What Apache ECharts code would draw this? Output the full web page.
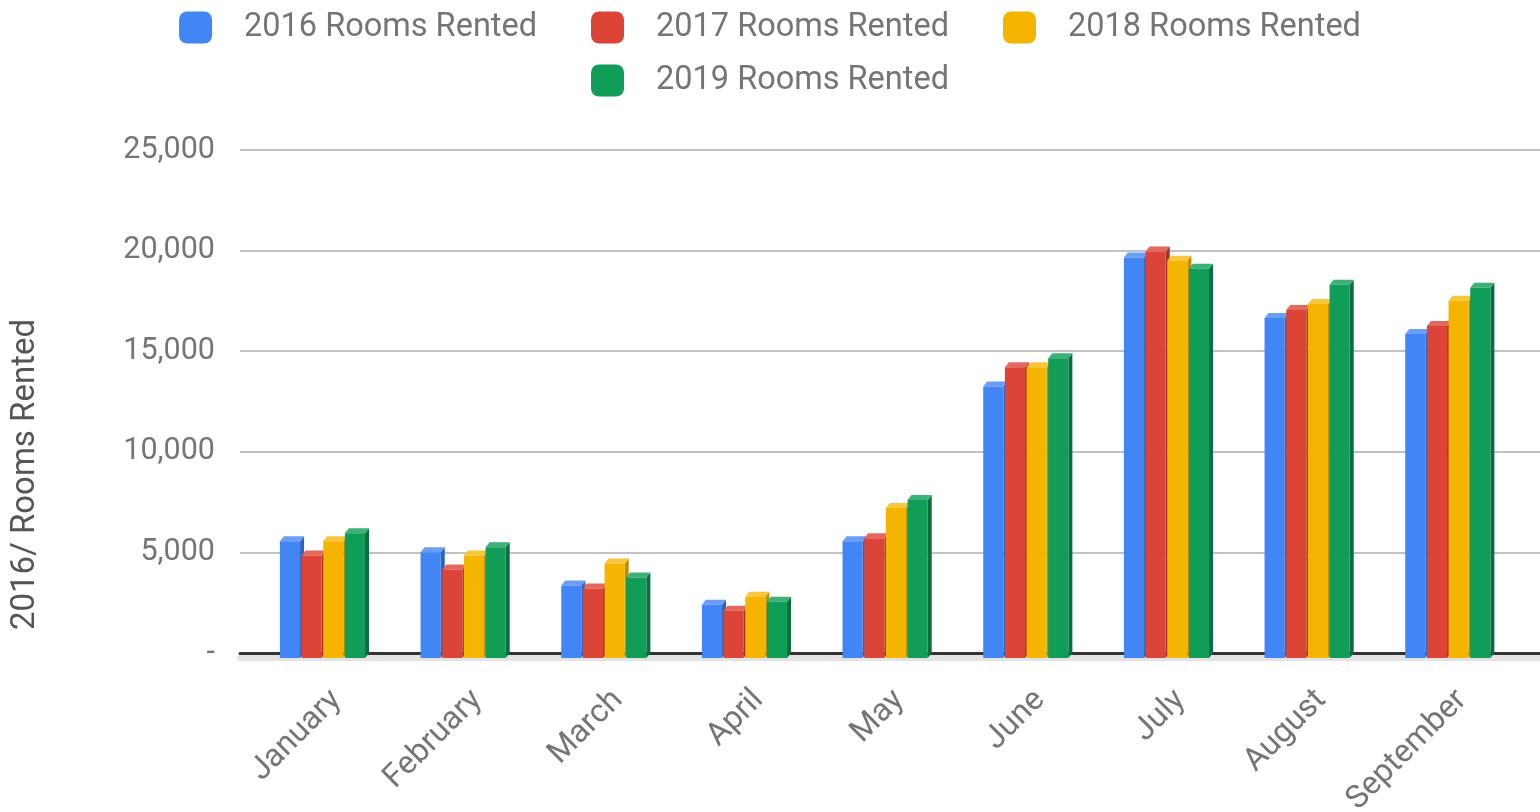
<!DOCTYPE html>
<html>
<head>
<meta charset="utf-8">
<script src="https://cdn.jsdelivr.net/npm/echarts@6/dist/echarts.min.js"></script>
<style>
  html, body { margin: 0; padding: 0; background: #fff; }
  #chart { width: 1540px; height: 812px; }
</style>
</head>
<body>
<div id="chart"></div>
<script>
// values
const months = ['January', 'February', 'March', 'April', 'May', 'June', 'July', 'August', 'September'];
const rooms2016 = [5800, 5250, 3600, 2650, 5800, 13500, 19900, 16900, 16100];
const rooms2017 = [5100, 4400, 3450, 2350, 5950, 14450, 20200, 17300, 16500];
const rooms2018 = [5800, 5100, 4700, 3050, 7450, 14450, 19750, 17600, 17750];
const rooms2019 = [6200, 5500, 4000, 2800, 7850, 14900, 19350, 18550, 18400];
const yTicks = [0, 5000, 10000, 15000, 20000, 25000];

const seriesNames = ['2016 Rooms Rented', '2017 Rooms Rented', '2018 Rooms Rented', '2019 Rooms Rented'];
const seriesData = [rooms2016, rooms2017, rooms2018, rooms2019];
const frontColors = ['#4285F4', '#DB4437', '#F4B400', '#0F9D58'];
const topColors = ['#6A9EF6', '#E5685D', '#F7C63A', '#3BB077'];
const sideColors = ['#2D62C0', '#A8322A', '#C08C00', '#0A6E3D'];

const labelColor = '#757575';

// fake 3d column: front face + top + right side
function bar3d(i) {
  return function (params, api) {
    const cat = api.value(0);
    const p = api.coord([cat, api.value(1)]);
    const base = api.coord([cat, 0]);
    const band = api.size([1, 0])[0];
    const pitch = band * 0.154;
    const fw = pitch - 1.5;
    const dx = 4, dy = 5;
    const x0 = p[0] - band * 0.323 + i * pitch;
    const yt = p[1] + dy;
    const yb = base[1] + dy;
    return {
      type: 'group',
      children: [
        { type: 'polygon', shape: { points: [[x0 + fw, yt], [x0 + fw + dx, yt - dy], [x0 + fw + dx, yb - dy], [x0 + fw, yb]] }, style: { fill: sideColors[i] } },
        { type: 'polygon', shape: { points: [[x0, yt], [x0 + fw, yt], [x0 + fw + dx, yt - dy], [x0 + dx, yt - dy]] }, style: { fill: topColors[i] } },
        { type: 'rect', shape: { x: x0, y: yt, width: fw, height: yb - yt }, style: { fill: frontColors[i] } }
      ]
    };
  };
}

const chart = echarts.init(document.getElementById('chart'));

chart.setOption({
  backgroundColor: '#fff',
  animation: false,
  textStyle: { fontFamily: 'Roboto' },
  legend: [
    {
      data: seriesNames.slice(0, 3),
      top: 6,
      left: 'center',
      icon: 'roundRect',
      itemWidth: 33,
      itemHeight: 32,
      itemGap: 54,
      textStyle: { fontSize: 32.5, color: labelColor, padding: [0, 0, 0, 27] }
    },
    {
      data: seriesNames.slice(3),
      top: 59,
      left: 'center',
      icon: 'roundRect',
      itemWidth: 33,
      itemHeight: 32,
      textStyle: { fontSize: 32.5, color: labelColor, padding: [0, 0, 0, 27] }
    }
  ],
  grid: [
    { left: 240, right: 0, top: 150, bottom: 159, outerBoundsMode: 'none' },
    { left: 255, right: 19, top: 150, bottom: 159, outerBoundsMode: 'none' }
  ],
  xAxis: [
    {
      gridIndex: 0, type: 'category', data: [''],
      axisLine: { lineStyle: { color: '#333', width: 3 } },
      axisTick: { show: false }, axisLabel: { show: false }
    },
    {
      gridIndex: 0, type: 'category', data: [''], position: 'bottom', offset: 5,
      axisLine: { lineStyle: { color: '#e3e3e3', width: 6 } },
      axisTick: { show: false }, axisLabel: { show: false }
    },
    {
      gridIndex: 1, type: 'category', data: months,
      axisLine: { show: false }, axisTick: { show: false },
      axisLabel: { rotate: 45, margin: 31, fontSize: 32, color: labelColor, interval: 0, verticalAlign: 'top' }
    }
  ],
  yAxis: [
    {
      gridIndex: 0, type: 'value', min: yTicks[0], max: yTicks[yTicks.length - 1], interval: 5000,
      name: '2016/ Rooms Rented', nameLocation: 'middle', nameGap: 198,
      nameTextStyle: { fontSize: 33, color: '#555', padding: [0, 146, 0, 0] },
      axisLine: { show: false }, axisTick: { show: false },
      axisLabel: {
        margin: 25, fontSize: 30.5, color: labelColor,
        formatter: v => v === 0 ? '-' : v.toLocaleString('en-US')
      },
      splitLine: { lineStyle: { color: '#c2c2c2', width: 2 } }
    },
    {
      gridIndex: 1, type: 'value', min: yTicks[0], max: yTicks[yTicks.length - 1], interval: 5000,
      show: false
    }
  ],
  series: seriesNames.map((name, i) => ({
    name: name,
    type: 'custom',
    xAxisIndex: 2,
    yAxisIndex: 1,
    itemStyle: { color: frontColors[i] },
    renderItem: bar3d(i),
    encode: { x: 0, y: 1 },
    data: seriesData[i].map((v, k) => [k, v])
  }))
});
</script>
</body>
</html>
